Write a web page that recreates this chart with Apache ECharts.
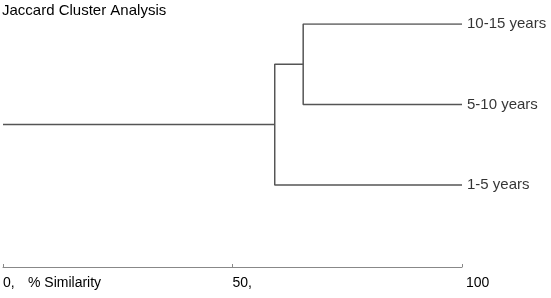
<!DOCTYPE html>
<html>
<head>
<meta charset="utf-8">
<script src="https://cdn.jsdelivr.net/npm/echarts@6/dist/echarts.min.js"></script>
<style>
html,body{margin:0;padding:0;background:#fff;}
#c{width:551px;height:298px;}
</style>
</head>
<body>
<div id="c"></div>
<script>
// Data
const leaves = ['10-15 years', '5-10 years', '1-5 years'];
// merges: child indices (leaves 0..n-1, clusters n..), similarity at merge
const mergeA = [0, 3];
const mergeB = [1, 2];
const mergeSim = [65.4, 59.2];
const leafSim = 100;
const xTicks = [0, 50, 100];
const xTickLabels = ['0,', '50,', '100'];
const axisName = '% Similarity';
const titleText = 'Jaccard Cluster Analysis';

// build node positions
const nodeX = leaves.map(() => leafSim);
const nodeY = leaves.map((_, i) => i);
const series = [];
const FONT = "'Liberation Sans', Arial, sans-serif";
const lineStyle = { color: '#555', width: 1.5 };
mergeSim.forEach((s, k) => {
  const a = mergeA[k], b = mergeB[k];
  const y = (nodeY[a] + nodeY[b]) / 2;
  series.push({
    type: 'line', symbol: 'none', silent: true, animation: false,
    lineStyle: lineStyle,
    data: [[nodeX[a], nodeY[a]], [s, nodeY[a]], [s, nodeY[b]], [nodeX[b], nodeY[b]]]
  });
  nodeX.push(s); nodeY.push(y);
});
const root = nodeX.length - 1;
series.push({
  type: 'line', symbol: 'none', silent: true, animation: false,
  lineStyle: lineStyle,
  data: [[xTicks[0], nodeY[root]], [nodeX[root], nodeY[root]]]
});
series.push({
  type: 'scatter', symbolSize: 0, silent: true, animation: false,
  data: leaves.map((name, i) => ({ value: [leafSim, i], name: name })),
  label: {
    show: true, position: 'right', distance: 5,
    formatter: p => p.name, color: '#000', fontSize: 15, fontFamily: FONT
  }
});

const chart = echarts.init(document.getElementById('c'));
chart.setOption({
  animation: false,
  title: [
    { text: titleText, left: 2, top: 3, padding: 0,
      textStyle: { fontSize: 15, fontWeight: 'normal', color: '#000', fontFamily: FONT } },
    { text: axisName, left: 28, top: 276, padding: 0,
      textStyle: { fontSize: 14, fontWeight: 'normal', color: '#000', fontFamily: FONT } }
  ],
  grid: { left: 2, right: 89, top: 24, bottom: 31 },
  xAxis: {
    type: 'value', min: xTicks[0], max: xTicks[xTicks.length - 1],
    interval: xTicks[1] - xTicks[0],
    position: 'bottom',
    splitLine: { show: false },
    axisLine: { onZero: false, lineStyle: { color: '#888', width: 1 } },
    axisTick: { inside: true, length: 3, lineStyle: { color: '#888' } },
    axisLabel: {
      align: 'left', margin: 9, color: '#000', fontSize: 14, fontFamily: FONT,
      formatter: v => {
        const t = xTickLabels[xTicks.indexOf(v)];
        return v === xTicks[xTicks.length - 1] ? '{e|' + t + '}' : t;
      },
      rich: { e: { padding: [0, 0, 0, 4], fontSize: 14, color: '#000', fontFamily: FONT } }
    }
  },
  yAxis: { type: 'value', inverse: true, min: 0, max: 3.02, show: false },
  series: series
});
</script>
</body>
</html>
